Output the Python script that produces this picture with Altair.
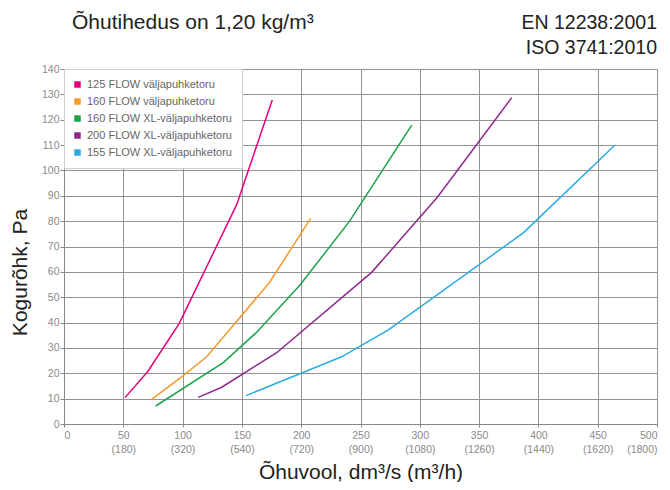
import altair as alt
import pandas as pd

# ---- data ----
series_names = [
    "125 FLOW väljapuhketoru",
    "160 FLOW väljapuhketoru",
    "160 FLOW XL-väljapuhketoru",
    "200 FLOW XL-väljapuhketoru",
    "155 FLOW XL-väljapuhketoru",
]
series_colors = ["#E6007E", "#F39A2E", "#1DA24A", "#8B2A8C", "#2AABE2"]

flow_125 = [51.4, 70.5, 97.2, 145.6, 175.6]
pres_125 = [10.4, 20.6, 39.7, 86.5, 127.8]

flow_160 = [73.4, 99.2, 120.3, 173.1, 208.0]
pres_160 = [9.5, 18.6, 26.5, 55.7, 81.1]

flow_160xl = [77.3, 134.3, 162.5, 199.0, 240.8, 293.2]
pres_160xl = [7.1, 24.2, 36.2, 54.8, 80.0, 117.9]

flow_200xl = [113.2, 133.0, 179.3, 259.4, 314.8, 377.5]
pres_200xl = [10.5, 14.5, 28.1, 59.8, 89.4, 128.7]

flow_155xl = [153.5, 234.1, 273.5, 387.3, 464.6]
pres_155xl = [11.2, 26.5, 37.1, 75.4, 110.0]

x_ticks = [0, 50, 100, 150, 200, 250, 300, 350, 400, 450, 500]
x_tick_m3h = ["", "(180)", "(320)", "(540)", "(720)", "(900)", "(1080)",
              "(1260)", "(1440)", "(1620)", "(1800)"]
y_ticks = [0, 10, 20, 30, 40, 50, 60, 70, 80, 90, 100, 110, 120, 130, 140]

title_left = "Õhutihedus on 1,20 kg/m³"
standards = ["EN 12238:2001", "ISO 3741:2010"]
x_title = "Õhuvool, dm³/s (m³/h)"
y_title = "Kogurõhk, Pa"

# ---- build table ----
rows = []
for name, xs, ys in zip(series_names,
                        [flow_125, flow_160, flow_160xl, flow_200xl, flow_155xl],
                        [pres_125, pres_160, pres_160xl, pres_200xl, pres_155xl]):
    for i, (xv, yv) in enumerate(zip(xs, ys)):
        rows.append({"series": name, "flow": xv, "pressure": yv, "order": i})
df = pd.DataFrame(rows)

# label expression for two-line x labels
expr = "''"
for v, m in reversed(list(zip(x_ticks, x_tick_m3h))):
    lab = f"['{v}']" if m == "" else f"['{v}', '{m}']"
    expr = f"datum.value == {v} ? {lab} : ({expr})"

FONT = "Liberation Sans"
LABEL_COLOR = "#8a8a8a"
GRID_COLOR = "#939393"

color_enc = alt.Color("series:N",
                      scale=alt.Scale(domain=series_names, range=series_colors),
                      sort=series_names,
                      legend=alt.Legend(title=None, orient="none", legendX=0, legendY=0,
                                        fillColor="white", strokeColor="#d0d0d0",
                                        padding=10, rowPadding=5,
                                        symbolType="square", symbolSize=42,
                                        symbolStrokeWidth=0, symbolOpacity=1,
                                        symbolOffset=-2,
                                        labelFont=FONT, labelFontSize=11,
                                        labelColor="#666666", labelOffset=4))

x_enc = alt.X("flow:Q",
              scale=alt.Scale(domain=[0, 500], nice=False, zero=True),
              axis=alt.Axis(values=x_ticks, labelExpr=expr, title=x_title,
                            grid=True, gridColor=GRID_COLOR, gridWidth=1,
                            domainColor="#888", tickColor="#888", tickSize=3,
                            labelColor=LABEL_COLOR, labelFontSize=10.5, labelFont=FONT,
                            labelPadding=3, labelLineHeight=14,
                            titleFont=FONT, titleFontSize=21, titleFontWeight="normal",
                            titleColor="#222", titleY=54, titleBaseline="alphabetic"))
y_enc = alt.Y("pressure:Q",
              scale=alt.Scale(domain=[0, 140], nice=False),
              axis=alt.Axis(values=y_ticks, title=y_title,
                            grid=True, gridColor=GRID_COLOR, gridWidth=1,
                            domainColor="#888", tickColor="#888", tickSize=4,
                            labelColor=LABEL_COLOR, labelFontSize=10.5, labelFont=FONT,
                            labelPadding=1,
                            titleFont=FONT, titleFontSize=21, titleFontWeight="normal",
                            titleColor="#222", titleX=-38, titleY=203,
                            titleBaseline="alphabetic", titleAngle=270))

lines = alt.Chart(df).mark_line(strokeWidth=1.5).encode(
    x=x_enc, y=y_enc, color=color_enc, order="order:Q",
)
# invisible filled squares so the legend shows filled swatches
swatches = alt.Chart(df).mark_point(filled=True, shape="square", opacity=0, size=1).encode(
    x=x_enc, y=y_enc, color=color_enc,
)

txt_df = pd.DataFrame({"a": [0]})
t_left = alt.Chart(txt_df).mark_text(align="left", baseline="alphabetic", font=FONT,
                                     fontSize=21, color="#222").encode(
    x=alt.value(8), y=alt.value(-40), text=alt.value(title_left))
t_r1 = alt.Chart(txt_df).mark_text(align="right", baseline="alphabetic", font=FONT,
                                   fontSize=19.5, color="#222").encode(
    x=alt.value(593), y=alt.value(-40), text=alt.value(standards[0]))
t_r2 = alt.Chart(txt_df).mark_text(align="right", baseline="alphabetic", font=FONT,
                                   fontSize=19.5, color="#222").encode(
    x=alt.value(593), y=alt.value(-15), text=alt.value(standards[1]))

chart = alt.layer(lines, swatches, t_left, t_r1, t_r2).properties(
    width=593, height=355,
    autosize=alt.AutoSizeParams(type="none"),
    padding={"left": 56, "top": 61, "right": 5, "bottom": 58},
    background="white",
).configure_view(strokeWidth=0)

chart.save("out.html", embed_options={"renderer": "svg", "actions": False})
